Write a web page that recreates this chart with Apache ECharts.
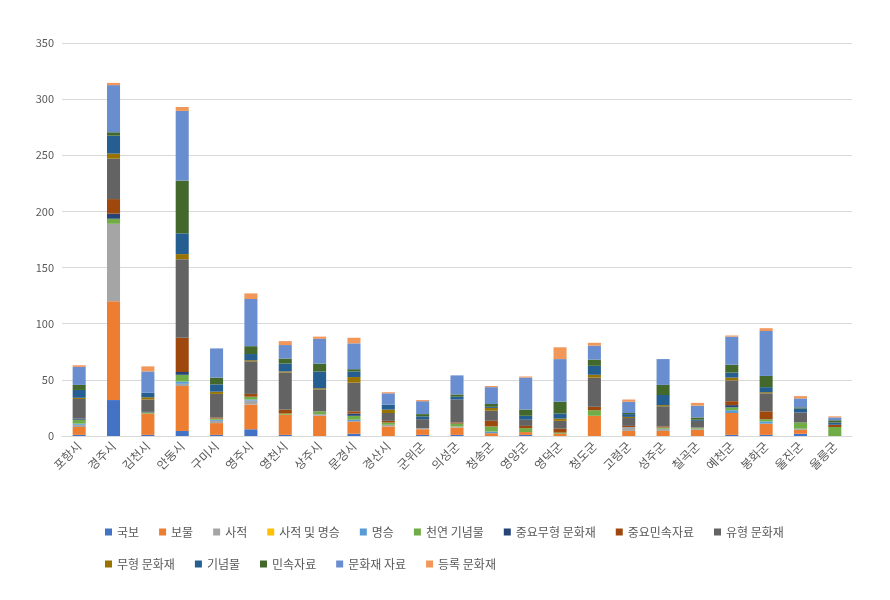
<!DOCTYPE html>
<html>
<head>
<meta charset="utf-8">
<script src="https://cdn.jsdelivr.net/npm/echarts@6/dist/echarts.min.js"></script>
<style>html,body{margin:0;background:#fff}#main{width:890px;height:600px}</style>
</head>
<body>
<div id="main"></div>
<script>
var regions = ['포항시','경주시','김천시','안동시','구미시','영주시','영천시','상주시','문경시','경산시','군위군','의성군','청송군','영양군','영덕군','청도군','고령군','성주군','칠곡군','예천군','봉화군','울진군','울릉군'];

var gukbo     = [1,32,1,4.5,1,6,1,0,2,0,1,1,0,1,0,0,0,0,0,1,1,2,0];
var bomul     = [7,88,19,40,10.5,22,18,18,11,8.5,5,6.5,2.5,2.5,2,18,4.5,4.5,5.5,19.5,10,3.5,0];
var sajeok    = [2,69,0,2,2,3.5,0,1.5,0,1.5,1,1,0,0,0,0,3.5,2,1,0,0,1,0];
var sajeokMs  = [0,0,0,0,0,0,0,0,0,0,0,0,0,0,0,0,0,0,0,0,0,0,0];
var myeongseung = [1,0,0,2,1,1,0,0,1.5,0,0,0,1.5,0,0,0,0,0,0,2.5,2,0,0];
var cheonyeon = [3.5,4.5,1,6,1,2.5,1,2.5,3.5,2,0,2.5,4.5,3.5,1,5,0,1,1,2.5,2,5.5,8];
var jmuhyeong = [1,4.5,0.5,2.5,0,0,0,0,2,0,0,0,0,0,0,0,0,0,0,2,0,0,0];
var jminsok   = [0,13,0,30.5,1,2.5,3.5,0,2,1.5,0,1,5,2,3.5,3,1,1,0,3.5,7,0,2];
var yuhyeong  = [17.5,36,11,70,21,29,33,19.5,25.5,7,8,20.5,9,5.5,7,26,7,18,6,18.5,16,9,0];
var muhyeong  = [1,4.5,2,4.5,2,1,1,1,5,3,0,0,2.5,0,2,2.5,1,1,0,2.5,1,0,0];
var ginyeom   = [7,16,4,18.5,6.5,5.5,7,15,5,4.5,2.5,2.5,1,3.5,4.5,8,2.5,9,1,4.5,4.5,3.5,2];
var minsok    = [4.5,3,0,47,6,7,4.5,7,2,0,2,2,2.5,5.5,10.5,5.5,1,9,2,7,10,1,2];
var munhwajae = [16,42,19,62,26,42,12,22,23,10,11.5,17,15,28.5,38,12.5,10,23,10.5,25,40,8,2.5];
var deungrok  = [1.5,2,4.5,3.5,0,5,3.5,2,5,1,1,0,1,1,10.5,2.5,2,0,2.5,1,2.5,2,1];

var seriesDefs = [
    ['국보', gukbo, '#4472C4'],
    ['보물', bomul, '#ED7D31'],
    ['사적', sajeok, '#A5A5A5'],
    ['사적 및 명승', sajeokMs, '#FFC000'],
    ['명승', myeongseung, '#5B9BD5'],
    ['천연 기념물', cheonyeon, '#70AD47'],
    ['중요무형 문화재', jmuhyeong, '#264478'],
    ['중요민속자료', jminsok, '#9E480E'],
    ['유형 문화재', yuhyeong, '#636363'],
    ['무형 문화재', muhyeong, '#997300'],
    ['기념물', ginyeom, '#255E91'],
    ['민속자료', minsok, '#43682B'],
    ['문화재 자료', munhwajae, '#698ED0'],
    ['등록 문화재', deungrok, '#F1975A']
];

var myChart = echarts.init(document.getElementById('main'));
var option = {
    animation: false,
    textStyle: {fontFamily: '"Noto Sans CJK KR", sans-serif'},
    color: seriesDefs.map(function (d) { return d[2]; }),
    grid: {left: 62, right: 38, top: 43, bottom: 164},
    legend: {
        left: 100, width: 720, top: 521,
        itemWidth: 7, itemHeight: 7, itemGap: 20,
        icon: 'rect',
        textStyle: {color: '#595959', fontSize: 12},
        data: seriesDefs.map(function (d) { return d[0]; })
    },
    xAxis: {
        type: 'category',
        data: regions,
        axisTick: {show: false},
        axisLine: {lineStyle: {color: '#d9d9d9'}},
        axisLabel: {rotate: 45, color: '#595959', fontSize: 12, interval: 0, margin: 8}
    },
    yAxis: {
        type: 'value', min: 0, max: 350, interval: 50,
        axisLabel: {color: '#595959', fontSize: 11},
        splitLine: {lineStyle: {color: '#d9d9d9'}}
    },
    series: seriesDefs.map(function (d) {
        return {name: d[0], type: 'bar', stack: 'all', barWidth: '38%', data: d[1]};
    })
};
myChart.setOption(option);
</script>
</body>
</html>
